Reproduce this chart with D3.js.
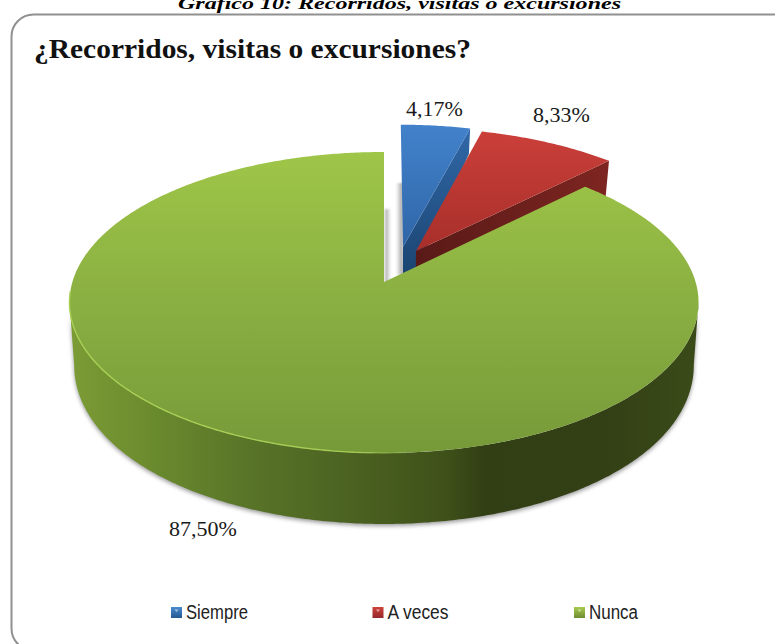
<!DOCTYPE html>
<html>
<head>
<meta charset="utf-8">
<script src="https://cdn.jsdelivr.net/npm/d3@7"></script>
<style>
  html, body { margin: 0; padding: 0; background: #fff; overflow: hidden; }
  svg { display: block; }
</style>
</head>
<body>
<svg id="chart" width="775" height="644"></svg>
<script>
// Survey results
const categories = ["Siempre", "A veces", "Nunca"];
const values = [4.17, 8.33, 87.5];
const heading = "Gráfico 10: Recorridos, visitas o excursiones";
const chartTitle = "¿Recorridos, visitas o excursiones?";

const svg = d3.select("#chart");
const defs = svg.append("defs");
const TAU = Math.PI * 2;

// Disk coordinates (-1..1) to screen offsets, with a perspective divide on depth.
const PERSPECTIVE = 0.136;
const scaleU = d3.scaleLinear().domain([-1, 1]).range([384 - 311.6, 384 + 311.6]);
const scaleV = d3.scaleLinear().domain([-1, 1]).range([282 + 147.7, 282 - 147.7]);
const WALL_SHRINK = 0.985;
// Wall height on screen shrinks toward the back of the disk.
const wallHeight = v => 60.1 - 18.87 * v - 7.98 * v * v;

function project(u, v, lower) {
  const s = 1 / (1 + PERSPECTIVE * v);
  let x = scaleU(0) + (scaleU(u) - scaleU(0)) * s;
  let y = scaleV(0) + (scaleV(v) - scaleV(0)) * s;
  if (lower) {
    x = scaleU(0) + (x - scaleU(0)) * WALL_SHRINK;
    y += wallHeight(v);
  }
  return [x, y];
}

const rimPoint = (angle, off, lower) =>
  project(off[0] + Math.sin(angle), off[1] + Math.cos(angle), lower);

const sampleAngles = (a0, a1) => {
  const n = Math.max(2, Math.ceil(Math.abs(a1 - a0) / 0.01));
  return d3.range(n + 1).map(i => a0 + (a1 - a0) * i / n);
};

const line = d3.line();
const closed = pts => line(pts) + "Z";

// Slice angles run clockwise from twelve o'clock.
const arcs = d3.pie().sort(null).startAngle(0).endAngle(TAU)(values);
const explode = [[0.063, 0.245], [0.1057, 0.2162], [0, 0]];

function linearGradient(id, x1, y1, x2, y2, stops) {
  const g = defs.append("linearGradient").attr("id", id)
    .attr("gradientUnits", "userSpaceOnUse")
    .attr("x1", x1).attr("y1", y1).attr("x2", x2).attr("y2", y2);
  stops.forEach(([o, c, a]) => {
    const st = g.append("stop").attr("offset", o).attr("stop-color", c);
    if (a !== undefined) st.attr("stop-opacity", a);
  });
}

linearGradient("topBlue", 0, 126, 0, 275, [[0, "#4282cb"], [1, "#2b5f9f"]]);
linearGradient("cutBlue", 0, 130, 0, 275, [[0, "#3068a8"], [1, "#1b4470"]]);
linearGradient("topRed", 0, 132, 0, 262, [[0, "#cb3f39"], [1, "#a42d29"]]);
linearGradient("cutRed", 416, 0, 611, 0, [[0, "#591a17"], [1, "#7e2521"]]);
linearGradient("topGreen", 0, 152, 0, 453, [[0, "#9fc648"], [0.5, "#8aaf42"], [1, "#779a39"]]);
linearGradient("wallGreen", 68, 0, 697, 0, [
  [0, "#7c9c36"], [0.13, "#6b8b2e"], [0.29, "#587428"], [0.45, "#4b6221"],
  [0.6, "#3f5119"], [0.66, "#323f14"], [0.85, "#333f15"], [1, "#3a4b18"]
]);
linearGradient("rimGreen", 68, 0, 420, 0, [[0, "#a9d055", 1], [0.8, "#a9d055", 0.9], [1, "#a9d055", 0]]);
linearGradient("gapLeft", 385, 0, 391, 0, [[0, "#a8a8a8"], [1, "#ffffff"]]);
linearGradient("gapRight", 396, 0, 402, 0, [[0, "#ffffff"], [1, "#a8a8a8"]]);

defs.append("filter").attr("id", "soft")
  .attr("x", "-5%").attr("y", "-5%").attr("width", "110%").attr("height", "110%")
  .append("feGaussianBlur").attr("stdDeviation", 2);
defs.append("filter").attr("id", "gapSoft")
  .attr("x", "-50%").attr("y", "-10%").attr("width", "200%").attr("height", "120%")
  .append("feGaussianBlur").attr("stdDeviation", 1);

// Rounded chart frame, running past the right and bottom of the page.
svg.append("rect")
  .attr("x", 11.5).attr("y", 14.5).attr("width", 790).attr("height", 636).attr("rx", 22)
  .attr("fill", "#fff").attr("stroke", "#909090").attr("stroke-width", 2);

svg.append("text").text(heading)
  .attr("x", 178).attr("y", 9)
  .attr("font-family", "'Liberation Serif'").attr("font-weight", "bold").attr("font-style", "italic")
  .attr("font-size", 17).attr("textLength", 443).attr("lengthAdjust", "spacingAndGlyphs")
  .attr("fill", "#000");

svg.append("text").text(chartTitle)
  .attr("x", 34).attr("y", 58)
  .attr("font-family", "'Liberation Serif'").attr("font-weight", "bold")
  .attr("font-size", 27).attr("textLength", 437).attr("lengthAdjust", "spacingAndGlyphs")
  .attr("fill", "#111");

// Soft shading in the gaps left by the pulled-out slices.
svg.append("rect").attr("x", 385).attr("y", 209).attr("width", 6).attr("height", 74)
  .attr("fill", "url(#gapLeft)").attr("filter", "url(#gapSoft)");
svg.append("rect").attr("x", 396).attr("y", 183).attr("width", 7).attr("height", 92)
  .attr("fill", "url(#gapRight)").attr("filter", "url(#gapSoft)");

// Pulled-out slices: the cut face at the clockwise end, then the top.
const fills = [
  { top: "url(#topBlue)", cut: "url(#cutBlue)" },
  { top: "url(#topRed)", cut: "url(#cutRed)" }
];
[0, 1].forEach(i => {
  const a = arcs[i], off = explode[i];
  const centre = project(off[0], off[1], false);
  const centreLow = project(off[0], off[1], true);
  const edge = rimPoint(a.endAngle, off, false);
  const edgeLow = rimPoint(a.endAngle, off, true);
  svg.append("path").attr("d", closed([edge, centre, centreLow, edgeLow])).attr("fill", fills[i].cut);
  const top = [centre].concat(sampleAngles(a.startAngle, a.endAngle).map(t => rimPoint(t, off, false)));
  svg.append("path").attr("d", closed(top)).attr("fill", fills[i].top);
});

// Largest slice: drop shadow, front wall, top, and the bright lip along the left front.
// The wall runs between the two points where the perspective ellipse is widest.
const big = arcs[2], noOff = explode[2];
const widest = Math.acos(-PERSPECTIVE);
const frontAngles = sampleAngles(widest, TAU - widest);
const wallPts = frontAngles.map(t => rimPoint(t, noOff, false))
  .concat(frontAngles.slice().reverse().map(t => rimPoint(t, noOff, true)));

svg.append("path").attr("d", closed(wallPts))
  .attr("fill", "#777").attr("opacity", 0.75).attr("filter", "url(#soft)")
  .attr("transform", "translate(0,2)");
svg.append("path").attr("d", closed(wallPts)).attr("fill", "url(#wallGreen)");

const bigTop = [project(noOff[0], noOff[1], false)]
  .concat(sampleAngles(big.startAngle, big.endAngle).map(t => rimPoint(t, noOff, false)));
svg.append("path").attr("d", closed(bigTop)).attr("fill", "url(#topGreen)");
svg.append("path")
  .attr("d", line(sampleAngles(TAU * 0.49, TAU * 0.74).map(t => rimPoint(t, noOff, false))))
  .attr("fill", "none").attr("stroke", "url(#rimGreen)").attr("stroke-width", 1.4);

// Value labels
const formatValue = d => d.toFixed(2).replace(".", ",") + "%";
const labelAnchors = [[406, 116], [533, 122], [169, 536]];
svg.selectAll("text.value").data(values).join("text").attr("class", "value")
  .text(formatValue)
  .attr("x", (d, i) => labelAnchors[i][0]).attr("y", (d, i) => labelAnchors[i][1])
  .attr("font-family", "'Liberation Serif'").attr("font-size", 22)
  .attr("fill", "#1a1a1a");

// Legend
const swatchGradients = [["#4a8ad0", "#24588f"], ["#d0423c", "#93282a"], ["#a6cc4c", "#6d8c32"]];
swatchGradients.forEach(([c0, c1], i) => {
  const g = defs.append("linearGradient").attr("id", "key" + i)
    .attr("x1", 0).attr("y1", 0).attr("x2", 0).attr("y2", 1);
  g.append("stop").attr("offset", 0).attr("stop-color", c0);
  g.append("stop").attr("offset", 1).attr("stop-color", c1);
});
const legendX = d3.scalePoint().domain(categories).range([171, 574]);
const legendWidths = [62, 61, 49];
const key = svg.selectAll("g.key").data(categories).join("g").attr("class", "key")
  .attr("transform", d => `translate(${legendX(d)},607)`);
key.append("rect").attr("width", 11).attr("height", 11)
  .attr("fill", (d, i) => `url(#key${i})`);
key.append("path").attr("d", "M3.5,2.5L7.5,2.5L5.5,5Z")
  .attr("fill", "#fff").attr("opacity", 0.55);
key.append("text").text(d => d)
  .attr("x", 15).attr("y", 12)
  .attr("font-family", "'Liberation Sans'").attr("font-size", 20)
  .attr("textLength", (d, i) => legendWidths[i]).attr("lengthAdjust", "spacingAndGlyphs")
  .attr("fill", "#222");
</script>
</body>
</html>
